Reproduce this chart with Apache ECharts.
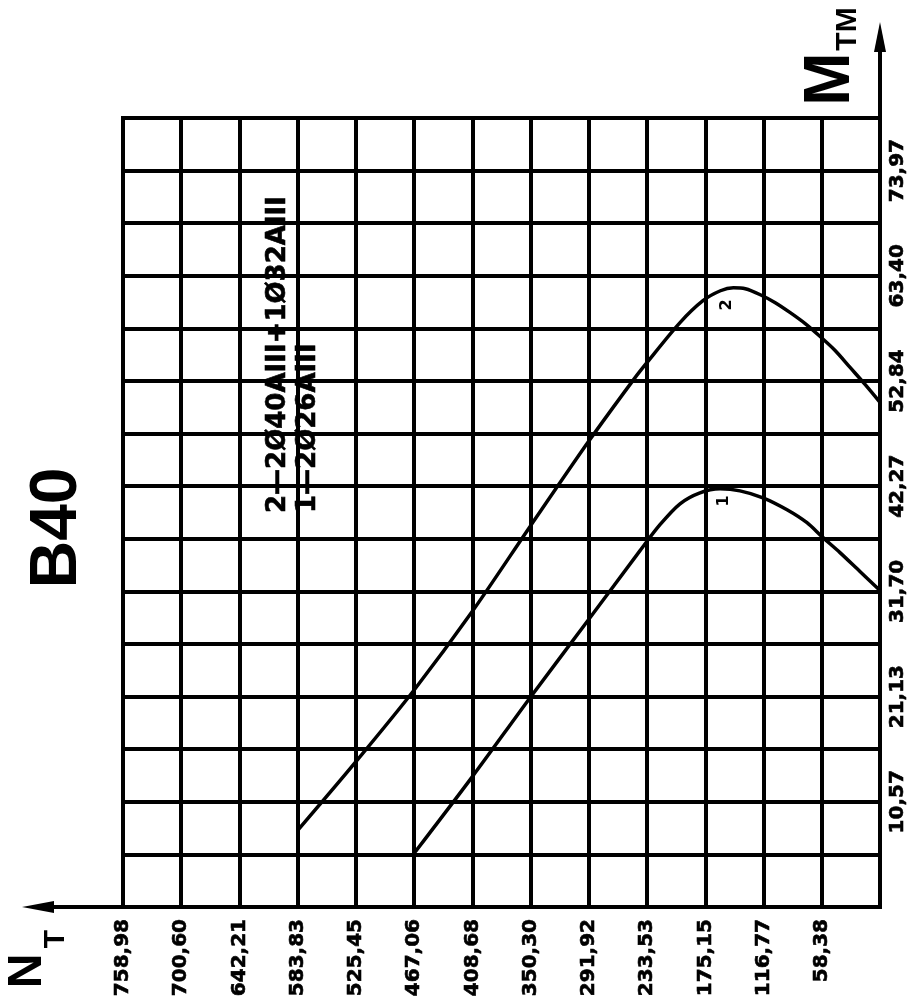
<!DOCTYPE html>
<html><head><meta charset="utf-8">
<script src="https://cdn.jsdelivr.net/npm/echarts@6/dist/echarts.min.js"></script>
<style>html,body{margin:0;padding:0;background:#fff}#c{width:915px;height:1007px}</style>
</head><body><div id="c"></div>
<script>
// Tick labels
const nTickLabels = ['58,38','116,77','175,15','233,53','291,92','350,30','408,68','467,06','525,45','583,83','642,21','700,60','758,98'];
const mTickLabels = ['10,57','21,13','31,70','42,27','52,84','63,40','73,97'];
// Curve 1 (1—2Ø26AIII): N_T values and M_TM values
const curve1N = [467.06, 408.68, 350.30, 291.92, 240.6, 220.6, 200.5, 180.5, 160.4, 140.4, 117.3, 93.2, 73.2, 58.2, 40.1, 20.1, 0];
const curve1M = [5.4, 13.1, 21.1, 28.9, 35.8, 38.4, 40.5, 41.6, 42.0, 41.8, 41.1, 39.9, 38.6, 37.2, 35.6, 33.7, 31.8];
// Curve 2 (2—2Ø40AIII+1Ø32AIII)
const curve2N = [583.83, 525.45, 467.06, 408.68, 350.30, 291.92, 247.6, 233.53, 200.5, 177.5, 160, 147, 135, 120, 105, 90, 75, 60, 45, 30, 15, 0];
const curve2M = [7.7, 14.6, 21.8, 29.7, 38.3, 46.8, 52.9, 54.7, 58.7, 60.9, 61.9, 62.2, 62.1, 61.5, 60.7, 59.7, 58.6, 57.3, 55.9, 54.2, 52.5, 50.7];
const legendLines = ['2\u20142\u00D840AIII+1\u00D832AIII', '1\u20142\u00D826AIII'];
const curveNames = ['1', '2'];
const titleText = 'B40';

const nMax = 758.98, nStep = nMax / 13;
const mStep = 73.97 / 14, mMax = mStep * 15;

const G = {left: 123, right: 35, top: 118, bottom: 100};
const W = 915, H = 1007;
const axisY = H - G.bottom, axisX = W - G.right;

const labelFont = {fontFamily: 'DejaVu Sans', fontWeight: 'bold', fontSize: 20, color: '#000', textBorderColor: '#000', textBorderWidth: 0.6};

function zip(a, b) { return a.map((v, i) => [v, b[i]]); }

const chart = echarts.init(document.getElementById('c'));
chart.setOption({
  animation: false,
  backgroundColor: '#fff',
  grid: {left: G.left, right: G.right, top: G.top, bottom: G.bottom, show: true, borderColor: '#000', borderWidth: 4, containLabel: false},
  xAxis: {
    type: 'value', inverse: true, min: 0, max: nMax, interval: nStep,
    axisLine: {show: true, lineStyle: {color: '#000', width: 4}},
    axisTick: {show: false},
    splitLine: {show: true, lineStyle: {color: '#000', width: 4}},
    axisLabel: Object.assign({
      rotate: 90, margin: 12, showMinLabel: true, showMaxLabel: true,
      formatter: v => { const i = Math.round(v / nStep); return (i >= 1 && i <= 13) ? nTickLabels[i - 1] : ''; }
    }, labelFont)
  },
  yAxis: {
    type: 'value', position: 'right', min: 0, max: mMax, interval: mStep,
    axisLine: {show: true, lineStyle: {color: '#000', width: 4}},
    axisTick: {show: false},
    splitLine: {show: true, lineStyle: {color: '#000', width: 4}},
    axisLabel: Object.assign({
      rotate: 90, margin: 8, showMinLabel: true, showMaxLabel: true,
      formatter: v => { const i = Math.round(v / mStep); return (i % 2 === 0 && i >= 2 && i <= 14) ? mTickLabels[i / 2 - 1] : ''; }
    }, labelFont)
  },
  series: [
    {name: curveNames[0], type: 'line', data: zip(curve1N, curve1M), symbol: 'none', smooth: 0.3, lineStyle: {color: '#000', width: 3.5}, z: 5},
    {name: curveNames[1], type: 'line', data: zip(curve2N, curve2M), symbol: 'none', smooth: 0.3, lineStyle: {color: '#000', width: 3.5}, z: 5}
  ],
  graphic: [
    {type: 'text', x: 58, y: 528, rotation: Math.PI / 2, style: {text: titleText, font: 'bold 66px "Liberation Sans", Arial, sans-serif', fill: '#000', textAlign: 'center', textVerticalAlign: 'middle'}},
    {type: 'text', x: 278, y: 513, rotation: Math.PI / 2, style: {text: legendLines[0], font: 'bold 26px "DejaVu Sans", sans-serif', fill: '#000', stroke: '#000', lineWidth: 0.6, textAlign: 'left', textVerticalAlign: 'middle'}},
    {type: 'text', x: 308, y: 513, rotation: Math.PI / 2, style: {text: legendLines[1], font: 'bold 26px "DejaVu Sans", sans-serif', fill: '#000', stroke: '#000', lineWidth: 0.6, textAlign: 'left', textVerticalAlign: 'middle'}},
    {type: 'text', x: 727, y: 305, rotation: Math.PI / 2, style: {text: curveNames[1], font: 'bold 16px "DejaVu Sans", sans-serif', fill: '#000', textAlign: 'center', textVerticalAlign: 'middle'}},
    {type: 'text', x: 724, y: 501, rotation: Math.PI / 2, style: {text: curveNames[0], font: 'bold 16px "DejaVu Sans", sans-serif', fill: '#000', textAlign: 'center', textVerticalAlign: 'middle'}},
    // N_T axis name
    {type: 'text', x: 28, y: 971, rotation: Math.PI / 2, style: {text: 'N', font: 'bold 48px "Liberation Sans", Arial, sans-serif', fill: '#000', textAlign: 'center', textVerticalAlign: 'middle'}},
    {type: 'text', x: 56, y: 939, rotation: Math.PI / 2, style: {text: 'T', font: 'bold 30px "Liberation Sans", Arial, sans-serif', fill: '#000', textAlign: 'center', textVerticalAlign: 'middle'}},
    // M_TM axis name
    {type: 'text', x: 831, y: 79, rotation: Math.PI / 2, style: {text: 'M', font: 'bold 64px "Liberation Sans", Arial, sans-serif', fill: '#000', textAlign: 'center', textVerticalAlign: 'middle'}},
    {type: 'text', x: 848, y: 29, rotation: Math.PI / 2, style: {text: 'TM', font: 'bold 30px "Liberation Sans", Arial, sans-serif', fill: '#000', textAlign: 'center', textVerticalAlign: 'middle'}},
    // axis arrows
    {type: 'line', shape: {x1: 50, y1: axisY, x2: G.left, y2: axisY}, style: {stroke: '#000', lineWidth: 4}},
    {type: 'polygon', shape: {points: [[22, axisY], [54, axisY - 6], [54, axisY + 6]]}, style: {fill: '#000'}},
    {type: 'line', shape: {x1: axisX, y1: 50, x2: axisX, y2: G.top}, style: {stroke: '#000', lineWidth: 4}},
    {type: 'polygon', shape: {points: [[axisX, 22], [axisX - 6, 52], [axisX + 6, 52]]}, style: {fill: '#000'}}
  ]
});
</script></body></html>
